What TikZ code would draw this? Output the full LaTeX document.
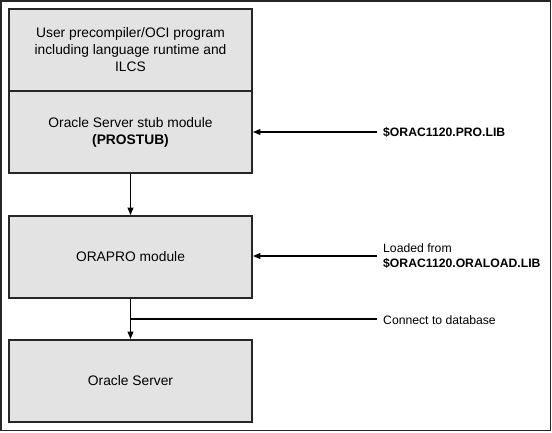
\documentclass[tikz,border=0pt]{standalone}
\usepackage{fontspec}
\setmainfont{Liberation Sans}
\usepackage{tikz}
\usetikzlibrary{arrows.meta}
\usetikzlibrary{positioning}
\tikzset{%
	modbox/.style={rectangle,fill=black!11,draw=black!85,line width=1.8,minimum width=243,minimum height=82,align=center,font=\fontsize{13.8}{17}\selectfont},
	lbl/.style={anchor=west,inner sep=0,align=left,font=\fontsize{12.2}{14.5}\selectfont},
	lw/.style={line width=1.4},
	ex/.style={arrows={-Triangle[length=0.26cm,width=0.2cm]},line width=1.4},
}
\begin{document}
\begin{tikzpicture}[x=1pt,y=-1pt]
	\useasboundingbox (0,0) rectangle (552,432);
	\draw[line width=1.8,draw=black!85] (1,1) rectangle (550.5,430.5);
	
	\node (usr) at (130.5,50) [modbox] {User precompiler/OCI program\\including language runtime and\\ILCS};
	\node (stub) at (130.5,132) [modbox] {Oracle Server stub module\\\textbf{(PROSTUB)}};
	\node (orapro) at (130.5,257) [modbox] {ORAPRO module};
	\node (srv) at (130.5,381) [modbox] {Oracle Server};
	
	\node (prolib) at (383,132) [lbl] {\textbf{\$ORAC1120.PRO.LIB}};
	\node (loadlib) at (383,256) [lbl] {Loaded from\\\textbf{\$ORAC1120.ORALOAD.LIB}};
	\node (conn) at (383,320) [lbl] {Connect to database};
	
	\coordinate (p1) at (377,132);
	\coordinate (p2) at (377,256);
	\coordinate (p3) at (377,319);
	
	\draw[ex] (p1) -- (stub.east);
	\draw[ex] (p2) -- (p2 -| orapro.east);
	\draw[ex] (stub) -- (orapro);
	\draw[ex] (orapro) -- (srv);
	\draw[lw] (p3) -- (p3 -| orapro.south);
\end{tikzpicture}
\end{document}
